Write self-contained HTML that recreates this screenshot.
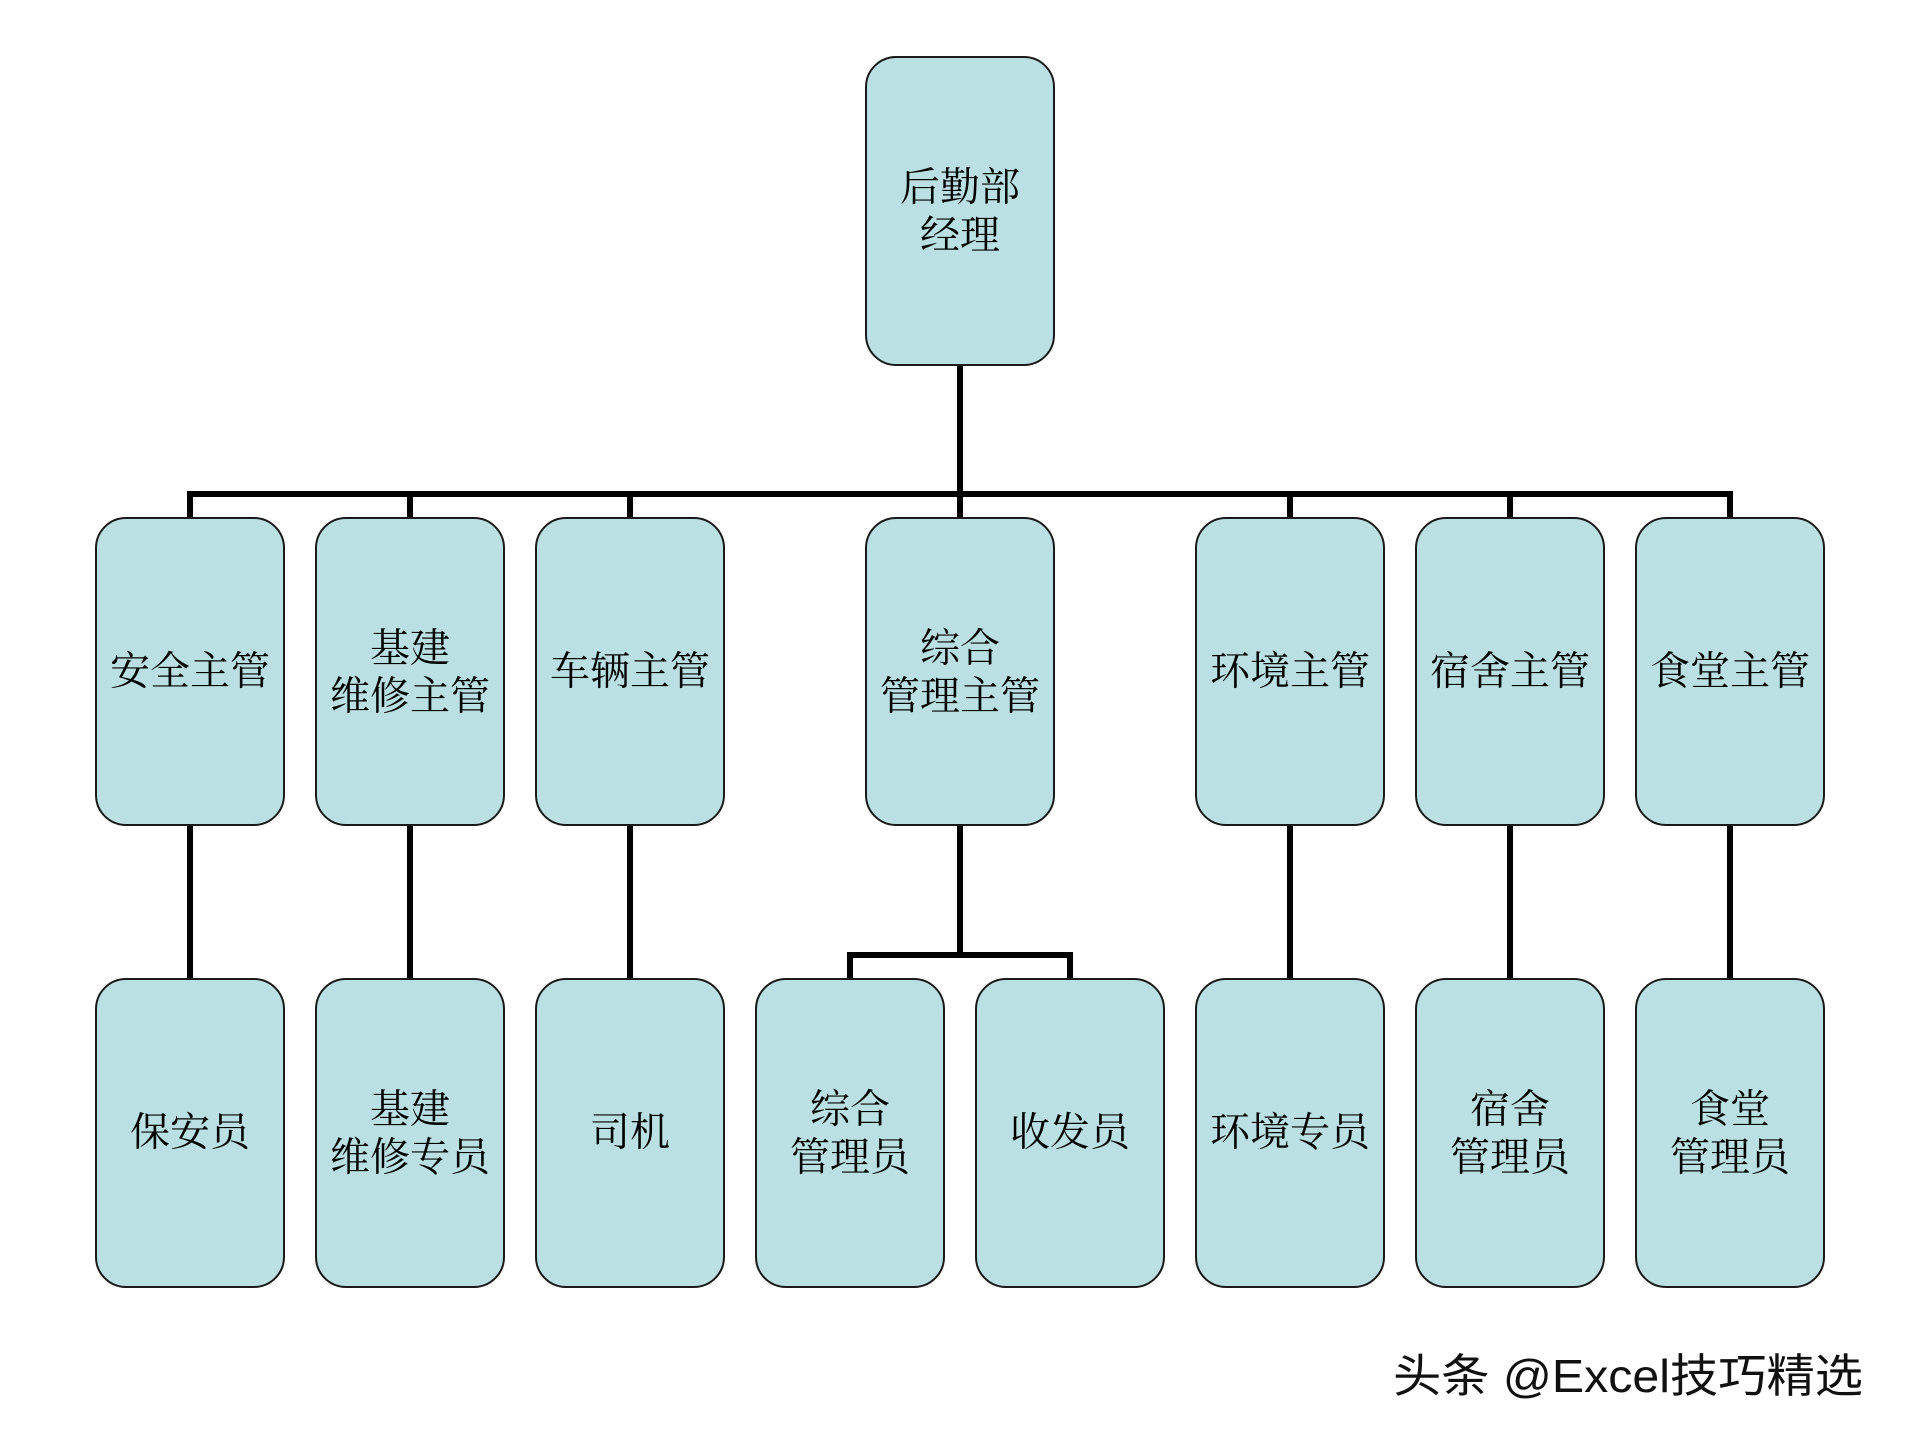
<!DOCTYPE html>
<html>
<head>
<meta charset="utf-8">
<style>
  html, body { margin: 0; padding: 0; background: #ffffff; }
  body { width: 1920px; height: 1440px; overflow: hidden; }
  svg { display: block; }
  .box { fill: #BBE0E3; stroke: #1a1a1a; stroke-width: 2; }
  .t { font-family: "Liberation Serif", "Noto Serif CJK SC", serif; font-size: 40px; fill: #000; text-anchor: middle; dominant-baseline: central; }
  .ln { stroke: #000; stroke-width: 6; fill: none; stroke-linecap: butt; }
  .wm { font-family: "Liberation Sans", "Noto Sans CJK SC", sans-serif; font-size: 46px; fill: #111; }
</style>
</head>
<body>
<svg width="1920" height="1440" viewBox="0 0 1920 1440" xmlns="http://www.w3.org/2000/svg">
  <!-- connectors -->
  <line class="ln" x1="960" y1="365" x2="960" y2="518"/>
  <line class="ln" x1="187" y1="494" x2="1733" y2="494"/>
  <line class="ln" x1="190" y1="494" x2="190" y2="518"/>
  <line class="ln" x1="410" y1="494" x2="410" y2="518"/>
  <line class="ln" x1="630" y1="494" x2="630" y2="518"/>
  <line class="ln" x1="1290" y1="494" x2="1290" y2="518"/>
  <line class="ln" x1="1510" y1="494" x2="1510" y2="518"/>
  <line class="ln" x1="1730" y1="494" x2="1730" y2="518"/>

  <line class="ln" x1="190" y1="825" x2="190" y2="979"/>
  <line class="ln" x1="410" y1="825" x2="410" y2="979"/>
  <line class="ln" x1="630" y1="825" x2="630" y2="979"/>
  <line class="ln" x1="1290" y1="825" x2="1290" y2="979"/>
  <line class="ln" x1="1510" y1="825" x2="1510" y2="979"/>
  <line class="ln" x1="1730" y1="825" x2="1730" y2="979"/>

  <line class="ln" x1="960" y1="825" x2="960" y2="955"/>
  <line class="ln" x1="847" y1="955" x2="1073" y2="955"/>
  <line class="ln" x1="850" y1="955" x2="850" y2="979"/>
  <line class="ln" x1="1070" y1="955" x2="1070" y2="979"/>

  <!-- top -->
  <rect class="box" x="866" y="57" width="188" height="308" rx="30" ry="30"/>
  <text class="t" x="960" y="187">后勤部</text>
  <text class="t" x="960" y="235">经理</text>

  <!-- row 2 -->
  <rect class="box" x="96" y="518" width="188" height="307" rx="30" ry="30"/>
  <text class="t" x="190" y="671">安全主管</text>

  <rect class="box" x="316" y="518" width="188" height="307" rx="30" ry="30"/>
  <text class="t" x="410" y="648">基建</text>
  <text class="t" x="410" y="696">维修主管</text>

  <rect class="box" x="536" y="518" width="188" height="307" rx="30" ry="30"/>
  <text class="t" x="630" y="671">车辆主管</text>

  <rect class="box" x="866" y="518" width="188" height="307" rx="30" ry="30"/>
  <text class="t" x="960" y="648">综合</text>
  <text class="t" x="960" y="696">管理主管</text>

  <rect class="box" x="1196" y="518" width="188" height="307" rx="30" ry="30"/>
  <text class="t" x="1290" y="671">环境主管</text>

  <rect class="box" x="1416" y="518" width="188" height="307" rx="30" ry="30"/>
  <text class="t" x="1510" y="671">宿舍主管</text>

  <rect class="box" x="1636" y="518" width="188" height="307" rx="30" ry="30"/>
  <text class="t" x="1730" y="671">食堂主管</text>

  <!-- row 3 -->
  <rect class="box" x="96" y="979" width="188" height="308" rx="30" ry="30"/>
  <text class="t" x="190" y="1132">保安员</text>

  <rect class="box" x="316" y="979" width="188" height="308" rx="30" ry="30"/>
  <text class="t" x="410" y="1109">基建</text>
  <text class="t" x="410" y="1157">维修专员</text>

  <rect class="box" x="536" y="979" width="188" height="308" rx="30" ry="30"/>
  <text class="t" x="630" y="1132">司机</text>

  <rect class="box" x="756" y="979" width="188" height="308" rx="30" ry="30"/>
  <text class="t" x="850" y="1109">综合</text>
  <text class="t" x="850" y="1157">管理员</text>

  <rect class="box" x="976" y="979" width="188" height="308" rx="30" ry="30"/>
  <text class="t" x="1070" y="1132">收发员</text>

  <rect class="box" x="1196" y="979" width="188" height="308" rx="30" ry="30"/>
  <text class="t" x="1290" y="1132">环境专员</text>

  <rect class="box" x="1416" y="979" width="188" height="308" rx="30" ry="30"/>
  <text class="t" x="1510" y="1109">宿舍</text>
  <text class="t" x="1510" y="1157">管理员</text>

  <rect class="box" x="1636" y="979" width="188" height="308" rx="30" ry="30"/>
  <text class="t" x="1730" y="1109">食堂</text>
  <text class="t" x="1730" y="1157">管理员</text>

  <!-- watermark -->
  <text class="wm" x="1393" y="1392" textLength="470" lengthAdjust="spacingAndGlyphs">头条 @Excel技巧精选</text>
</svg>
</body>
</html>
